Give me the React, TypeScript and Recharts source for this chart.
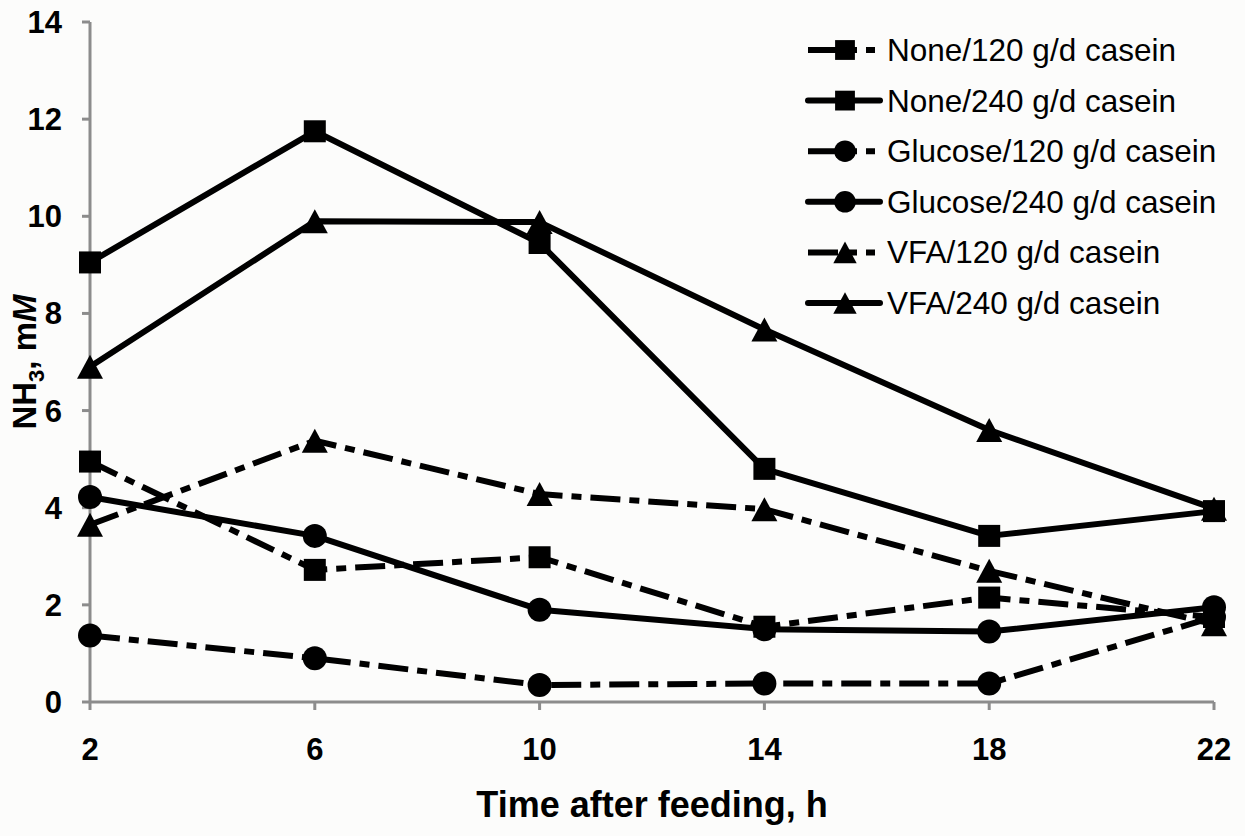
import { LineChart, Line, XAxis, YAxis, Legend } from 'recharts';

const hours = [2, 6, 10, 14, 18, 22];
const none120 = [4.95, 2.72, 2.98, 1.55, 2.15, 1.75];
const none240 = [9.05, 11.75, 9.45, 4.8, 3.42, 3.93];
const glucose120 = [1.37, 0.9, 0.35, 0.38, 0.38, 1.75];
const glucose240 = [4.22, 3.42, 1.9, 1.5, 1.45, 1.95];
const vfa120 = [3.65, 5.38, 4.28, 3.97, 2.7, 1.6];
const vfa240 = [6.9, 9.9, 9.88, 7.67, 5.6, 3.98];
const yTicks = [0, 2, 4, 6, 8, 10, 12, 14];

const data = hours.map((h, i) => ({
  h,
  none120: none120[i],
  none240: none240[i],
  glucose120: glucose120[i],
  glucose240: glucose240[i],
  vfa120: vfa120[i],
  vfa240: vfa240[i],
}));

type Shape = 'square' | 'circle' | 'triangle';

const series: { key: string; name: string; shape: Shape; dashed: boolean }[] = [
  { key: 'none120', name: 'None/120 g/d casein', shape: 'square', dashed: true },
  { key: 'none240', name: 'None/240 g/d casein', shape: 'square', dashed: false },
  { key: 'glucose120', name: 'Glucose/120 g/d casein', shape: 'circle', dashed: true },
  { key: 'glucose240', name: 'Glucose/240 g/d casein', shape: 'circle', dashed: false },
  { key: 'vfa120', name: 'VFA/120 g/d casein', shape: 'triangle', dashed: true },
  { key: 'vfa240', name: 'VFA/240 g/d casein', shape: 'triangle', dashed: false },
];

const FONT = '"Liberation Sans", Arial, sans-serif';
const AXIS = '#8c8c8c';
const DASH = '30 9 10 9';
const LW = 6;

function Marker({ shape, cx, cy, s = 1 }: { shape: Shape; cx: number; cy: number; s?: number }) {
  if (shape === 'square') {
    const a = 11 * s;
    return <rect x={cx - a} y={cy - a} width={a * 2} height={a * 2} fill="#000" />;
  }
  if (shape === 'circle') {
    return <circle cx={cx} cy={cy} r={12 * s} fill="#000" />;
  }
  const w = 13 * s;
  const h = 12 * s;
  return <polygon points={`${cx},${cy - h} ${cx + w},${cy + h} ${cx - w},${cy + h}`} fill="#000" />;
}

function LegendBox() {
  return (
    <svg width={440} height={320} style={{ display: 'block' }}>
      {series.map((s, i) => {
        const y = 30 + i * 50.6;
        return (
          <g key={s.key}>
            <line
              x1={8}
              x2={s.dashed ? 75 : 80}
              y1={y}
              y2={y}
              stroke="#000"
              strokeWidth={LW}
              strokeDasharray={s.dashed ? DASH : undefined}
              strokeLinecap={s.dashed ? 'butt' : 'round'}
            />
            <Marker shape={s.shape} cx={45} cy={y} s={0.9} />
            <text x={87} y={y + 11} fontFamily={FONT} fontSize={31.5} fill="#000">
              {s.name}
            </text>
          </g>
        );
      })}
    </svg>
  );
}

export default function App() {
  return (
    <div style={{ position: 'absolute', left: 0, top: 0, width: 1245, height: 836, background: '#fcfcfb' }}>
      <LineChart width={1245} height={836} data={data} margin={{ top: 22, right: 31, bottom: 74, left: 0 }}>
        <XAxis
          dataKey="h"
          type="number"
          domain={[2, 22]}
          ticks={hours}
          height={60}
          axisLine={{ stroke: AXIS, strokeWidth: 3 }}
          tickLine={{ stroke: AXIS, strokeWidth: 3 }}
          tickSize={8}
          tickMargin={28}
          tick={{ fill: '#000', fontSize: 31, fontWeight: 'bold', fontFamily: FONT }}
          label={{
            content: (p: any) => {
              const vb = p.viewBox || { x: 90, width: 1124 };
              return (
                <text x={vb.x + vb.width / 2} y={817} textAnchor="middle" fontFamily={FONT} fontSize={36} fontWeight="bold" fill="#000">
                  Time after feeding, h
                </text>
              );
            },
          }}
        />
        <YAxis
          type="number"
          domain={[0, 14]}
          ticks={yTicks}
          width={90}
          axisLine={{ stroke: AXIS, strokeWidth: 3 }}
          tickLine={{ stroke: AXIS, strokeWidth: 3 }}
          tickSize={8}
          tickMargin={20}
          tick={{ fill: '#000', fontSize: 31, fontWeight: 'bold', fontFamily: FONT }}
          label={{
            content: () => (
              <text
                x={36}
                y={362}
                transform="rotate(-90, 36, 362)"
                textAnchor="middle"
                fontFamily={FONT}
                fontSize={33}
                fontWeight="bold"
                fill="#000"
              >
                NH
                <tspan fontSize={22} dy={8}>3</tspan>
                <tspan dy={-8}>, m</tspan>
                <tspan fontStyle="italic">M</tspan>
              </text>
            ),
          }}
        />
        <Legend
          layout="horizontal"
          verticalAlign="middle"
          align="center"
          wrapperStyle={{ left: 800, top: 20, width: 440, height: 320 }}
          content={() => <LegendBox />}
        />
        {series.map((s) => (
          <Line
            key={s.key}
            dataKey={s.key}
            name={s.name}
            stroke="#000"
            strokeWidth={LW}
            strokeDasharray={s.dashed ? DASH : undefined}
            strokeLinejoin="round"
            isAnimationActive={false}
            dot={(p: any) => <Marker key={`${s.key}-${p.index}`} shape={s.shape} cx={p.cx} cy={p.cy} />}
            activeDot={false}
          />
        ))}
      </LineChart>
    </div>
  );
}
